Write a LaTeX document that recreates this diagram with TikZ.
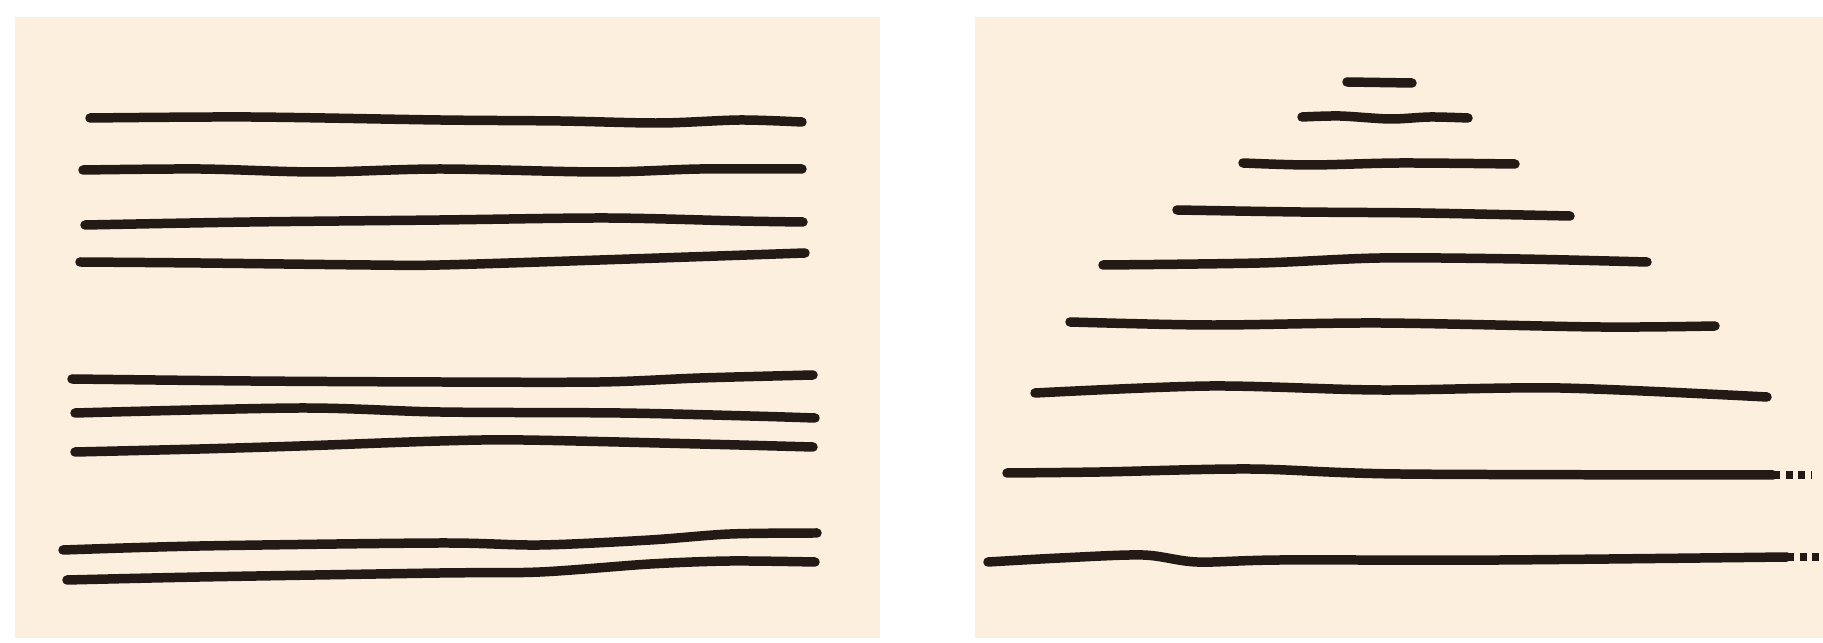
\documentclass[tikz,border=0pt]{standalone}
\usepackage{tikz}
\definecolor{paper}{HTML}{FCEFDD}
\definecolor{ink}{HTML}{231A16}

\begin{document}
\begin{tikzpicture}[
    x=0.01cm, y=-0.01cm,
    panel/.style={fill=paper, draw=none},
    stroke/.style={draw=ink, line width=2.7pt, line cap=round, line join=round},
    trail/.style={draw=ink, line width=2.2pt, dash pattern=on 2pt off 1.6pt},
    every plot/.style={smooth, tension=0.5},
]
\useasboundingbox (0,0) rectangle (1823,643);

% ===== Panels =====
\fill[panel] (15,17) rectangle (880,638);
\fill[panel] (975,17) rectangle (1823,638);

% ===== Left panel: groups of 4, 3 and 2 lines =====
\draw[stroke] plot coordinates {(90,118) (250,117) (440,120) (560,121) (660,123) (740,120) (802,122)};
\draw[stroke] plot coordinates {(83,170) (200,169) (317,172) (440,169) (600,172) (700,169) (802,169)};
\draw[stroke] plot coordinates {(85,225) (250,222) (440,220) (607,218) (740,221) (803,222)};
\draw[stroke] plot coordinates {(80,262) (200,263) (370,265) (440,265) (600,260) (805,253)};

\draw[stroke] plot coordinates {(72,379) (250,381) (440,382) (600,382) (700,378) (813,375)};
\draw[stroke] plot coordinates {(75,413) (300,408) (440,412) (620,413) (750,416) (815,418)};
\draw[stroke] plot coordinates {(75,452) (200,449) (300,446) (440,441) (523,440) (700,444) (813,447)};

\draw[stroke] plot coordinates {(63,550) (200,546) (440,543) (540,545) (650,540) (730,534) (817,533)};
\draw[stroke] plot coordinates {(67,580) (200,577) (440,573) (540,572) (650,564) (730,561) (815,562)};

% ===== Right panel: lines widening downwards =====
\draw[stroke] plot coordinates {(1347,82) (1412,83)};
\draw[stroke] plot coordinates {(1302,117) (1340,116) (1390,119) (1430,117) (1468,118)};
\draw[stroke] plot coordinates {(1243,163) (1310,165) (1400,163) (1515,164)};
\draw[stroke] plot coordinates {(1177,210) (1300,212) (1420,213) (1570,216)};
\draw[stroke] plot coordinates {(1103,265) (1260,263) (1380,258) (1520,259) (1647,262)};
\draw[stroke] plot coordinates {(1070,322) (1210,325) (1380,323) (1600,327) (1715,326)};
\draw[stroke] plot coordinates {(1035,393) (1210,386) (1380,390) (1560,388) (1767,397)};

% bottom two run off the edge
\draw[stroke] plot coordinates {(1007,473) (1100,472) (1250,469) (1400,474) (1773,475)};
\draw[trail] (1773,475) -- (1812,475);
\draw[stroke] plot coordinates {(988,562) (1060,558) (1143,555) (1197,562) (1280,560) (1500,560) (1787,557)};
\draw[trail] (1787,557) -- (1821,557);

\end{tikzpicture}
\end{document}
